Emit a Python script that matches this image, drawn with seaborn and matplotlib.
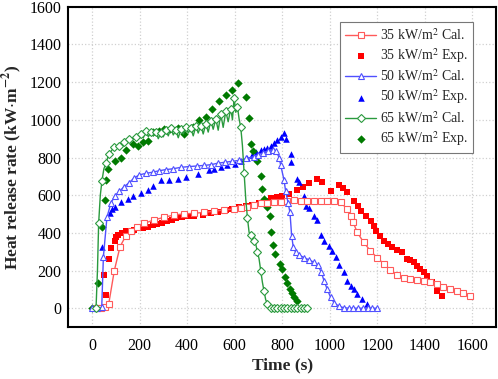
import numpy as np
import pandas as pd
import matplotlib
matplotlib.use("Agg")
import matplotlib.pyplot as plt
import seaborn as sns

# 35 kW/m2 calculated
cal35_t = [20, 40, 55, 70, 94, 118, 143, 165, 189, 220, 262, 304, 346, 388, 430, 472, 514, 556, 598,
           626, 654, 682, 710, 738, 766, 794, 822, 850, 878, 906, 934, 962, 990, 1018, 1046, 1074, 1088,
           1099, 1116, 1143, 1171, 1199, 1227, 1255, 1283, 1311, 1339, 1367, 1395, 1423, 1451, 1479,
           1507, 1535, 1563, 1591]
cal35_q = [0, 0, 5, 20, 200, 327, 386, 410, 430, 451, 469, 483, 495, 501, 504, 509, 515, 522, 527,
           532, 540, 550, 557, 560, 562, 565, 568, 572, 571, 571, 571, 570, 571, 568, 562, 527, 492,
           456, 403, 350, 306, 269, 237, 205, 174, 159, 155, 150, 147, 138, 130, 115,
           104, 90, 80, 67]

# 35 kW/m2 experiment
exp35_t = [52, 59, 70, 78, 95, 101, 111, 125, 143, 178, 213, 234, 255, 275, 295, 315, 335, 355, 380,
           405, 430, 465, 500, 530, 565, 590, 620, 647, 675, 703, 731, 752, 780, 801, 829, 864, 889,
           913, 948, 969, 1004, 1039, 1057, 1074, 1102, 1120, 1134, 1155, 1172, 1185, 1197, 1212, 1228,
           1245, 1263, 1285, 1305, 1326, 1340, 1354, 1368, 1382, 1396, 1410, 1431, 1452, 1473]
exp35_q = [178, 72, 262, 318, 359, 377, 391, 400, 408, 417, 426, 432, 440, 447, 455, 465, 470, 478, 485,
           490, 492, 495, 505, 510, 520, 527, 540, 545, 550, 560, 570, 585, 593, 598, 607, 625, 645,
           663, 686, 668, 624, 656, 639, 615, 571, 545, 518, 490, 465, 438, 412, 385, 359,
           340, 324, 310, 297, 262, 255, 244, 225, 209, 190, 173, 138, 94, 67]

# 50 kW/m2 calculated
cal50_t = [0, 20, 41, 48, 63, 80, 96, 115, 135, 155, 178, 199, 227, 255, 283, 311, 339, 374, 409, 440,
           470, 500, 530, 560, 590, 620, 650, 680, 700, 720, 740, 760, 775, 787, 794, 808, 815, 825, 833,
           840, 847, 857, 871, 892, 913, 934, 951, 965, 976, 990, 1004, 1018, 1039, 1060, 1080, 1100,
           1120, 1140, 1160, 1180, 1200]
cal50_q = [0, 0, 5, 274, 483, 560, 595, 620, 645, 665, 692, 708, 716, 722, 730, 736, 740, 748, 752, 755,
           758, 762, 770, 775, 780, 785, 795, 805, 815, 825, 835, 838, 835, 800, 760, 680, 620, 560, 509,
           386, 324, 297, 283, 269, 257, 244, 227, 191, 147, 100, 58, 30, 10, 3, 0, 0,
           0, 0, 0, 0, 0]

# 50 kW/m2 experiment
exp50_t = [42, 76, 83, 97, 122, 150, 171, 206, 234, 255, 290, 325, 360, 395, 444, 493, 514, 542, 570,
           600, 626, 654, 675, 690, 710, 724, 738, 752, 766, 780, 794, 808, 815, 836, 839, 864, 871, 892,
           899, 913, 934, 945, 964, 976, 997, 1011, 1025, 1039, 1060, 1074, 1088, 1102, 1116, 1137, 1158]
exp50_q = [324, 504, 527, 536, 562, 580, 594, 612, 628, 648, 681, 683, 686, 695, 710, 735, 740, 752, 762,
           768, 780, 800, 815, 830, 840, 845, 850, 860, 875, 895, 910, 930, 899, 819, 775, 686, 668, 598,
           545, 533, 492, 469, 391, 359, 333, 306, 271, 227, 191, 147, 120, 103, 76, 50, 20]

# 65 kW/m2 calculated (markers on every second point)
cal65_t = [17, 23, 28, 35, 42, 50, 59, 66, 73, 84, 94, 104, 115, 126, 136, 146, 157, 171, 185, 196,
           206, 216, 227, 237, 248, 258, 269, 279, 290, 300, 311, 321, 332, 342, 353, 363, 374, 384,
           395, 405, 416, 426, 437, 447, 458, 468, 479, 489, 500, 510, 521, 531, 542, 552, 563, 573,
           584, 591, 598, 605, 612, 619, 626, 633, 640, 647, 654, 661, 668, 675, 682, 689, 696, 703,
           710, 717, 724, 731, 738, 745, 752, 759, 766, 773, 780, 787, 794, 801, 808, 815, 822, 829,
           836, 843, 850, 857, 864, 871, 878, 885, 892, 899, 906, 913]
cal65_q = [0, 200, 451, 600, 677, 740, 769, 800, 819, 840, 854, 860, 863, 875, 881, 890, 899, 903, 907, 915,
           925, 905, 943, 910, 934, 915, 935, 900, 932, 910, 945, 915, 955, 920, 945, 905, 950, 925,
           960, 930, 955, 915, 965, 930, 970, 925, 980, 935, 995, 950, 1005, 945, 1030, 960, 1045, 990,
           1060, 1000, 1118, 1040, 1070, 1005, 960, 863, 720, 580, 480, 403, 390, 373, 355, 341, 300, 262,
           200, 138, 90, 45, 25, 9, 3, 0, 0, 0, 0, 0, 0, 0, 0, 0, 0, 0,
           0, 0, 0, 0, 0, 0, 0, 0, 0, 0, 0, 0]

# 65 kW/m2 experiment
exp65_t = [0, 24, 42, 56, 60, 69, 98, 120, 143, 171, 192, 213, 234, 255, 280, 304, 330, 360, 388, 423,
           451, 479, 507, 535, 563, 591, 615, 647, 661, 668, 679, 693, 710, 717, 724, 735, 749, 752, 763,
           769, 791, 801, 811, 822, 833, 843, 850, 861]
exp65_q = [0, 133, 433, 575, 681, 739, 780, 800, 840, 872, 863, 880, 890, 934, 940, 952, 950, 955, 925, 964,
           999, 1013, 1060, 1100, 1130, 1160, 1194, 1120, 1008, 872, 833, 780, 704, 633, 580, 536, 492, 403, 338,
           289, 236, 209, 165, 133, 103, 80, 58, 37]

labels_cal = ['35 kW/m$^2$ Cal.', '50 kW/m$^2$ Cal.', '65 kW/m$^2$ Cal.']
labels_exp = ['35 kW/m$^2$ Exp.', '50 kW/m$^2$ Exp.', '65 kW/m$^2$ Exp.']

sns.set_style("whitegrid")
plt.rcParams['font.family'] = ['Liberation Serif', 'DejaVu Serif']
plt.rcParams['mathtext.fontset'] = 'stix'

fig = plt.figure(figsize=(4.98, 3.79), dpi=100)
ax = fig.add_axes([0.137, 0.137, 0.859, 0.845])

cal_sets = [(cal35_t, cal35_q, '#ff5a5a', 's', 1),
            (cal50_t, cal50_q, '#5050ff', '^', 1),
            (cal65_t, cal65_q, '#2a9a3e', 'D', 2)]
exp_sets = [(exp35_t, exp35_q, '#ff0000', 's', 16),
            (exp50_t, exp50_q, '#0000ff', '^', 22),
            (exp65_t, exp65_q, '#007a00', 'D', 18)]

for i in range(3):
    t, q, c, m, ev = cal_sets[i]
    sns.lineplot(x=t, y=q, ax=ax, color=c, lw=1.0, marker=m, markersize=5 if m != 'D' else 4.5,
                 markerfacecolor='white', markeredgecolor=c, markeredgewidth=0.8,
                 markevery=ev, estimator=None, sort=False, label=labels_cal[i])
    t, q, c, m, s = exp_sets[i]
    sns.scatterplot(x=t, y=q, ax=ax, color=c, marker=m, s=s, linewidth=0, label=labels_exp[i])

ax.set_xlim(-100, 1700)
ax.set_ylim(-100, 1600)
ax.set_xticks(np.arange(0, 1601, 200))
ax.set_yticks(np.arange(0, 1601, 200))
ax.grid(True, color='#d0d0d0', linestyle=':', linewidth=0.9)
for sp in ax.spines.values():
    sp.set_color('black')
    sp.set_linewidth(1.5)
ax.tick_params(axis='both', labelsize=11.5, colors='black', direction='in', length=0)
ax.tick_params(axis='x', pad=8)
ax.tick_params(axis='y', pad=5)

ax.set_xlabel('Time (s)', fontsize=12.5, fontweight='bold', labelpad=2)
ax.set_ylabel(r'Heat release rate (kW$\cdot$m$^{\mathbf{-2}}$)', fontsize=12.5, fontweight='bold')

h, l = ax.get_legend_handles_labels()
leg = ax.legend(h, l, loc='upper right', bbox_to_anchor=(0.946, 0.953), fontsize=10,
                frameon=True, fancybox=False, edgecolor='#777777', framealpha=1,
                handlelength=2.2, handletextpad=0.3, borderpad=0.35, labelspacing=0.25,
                borderaxespad=0)
leg.get_frame().set_linewidth(0.8)

fig.savefig('out.png', dpi=100)
